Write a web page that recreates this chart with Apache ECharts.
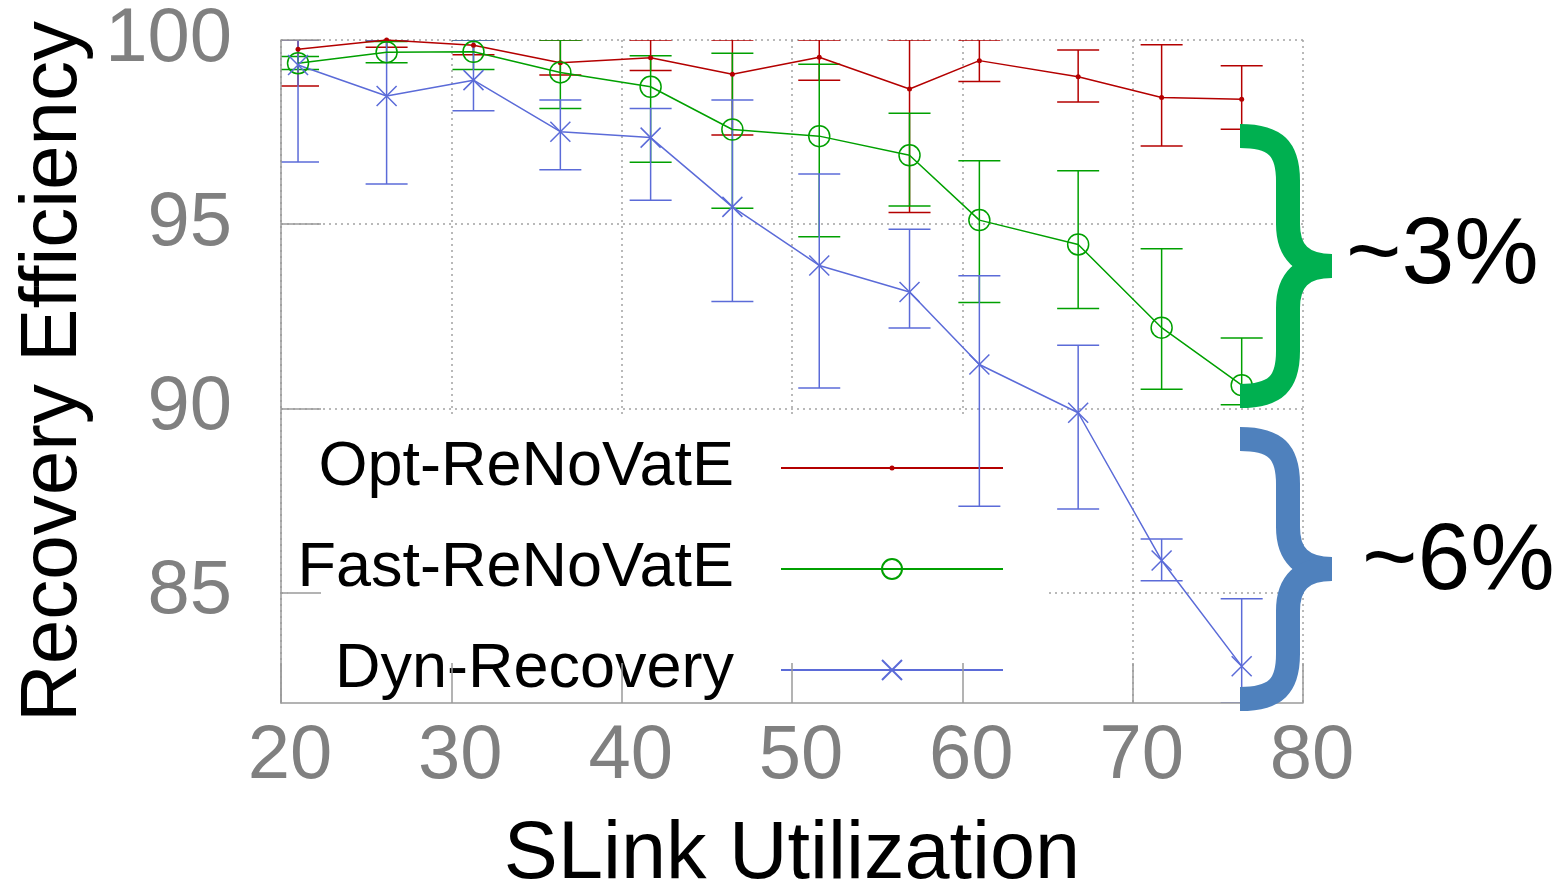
<!DOCTYPE html>
<html>
<head>
<meta charset="utf-8">
<title>Recovery Efficiency vs SLink Utilization</title>
<script src="https://cdn.jsdelivr.net/npm/echarts@6.0.0/dist/echarts.min.js"></script>
<style>
  html, body { margin: 0; padding: 0; background: #fff; }
  #chart { width: 1560px; height: 889px; }
</style>
</head>
<body>
<div id="chart"></div>
<script>
// values
const utilization = [21.0, 26.2, 31.3, 36.4, 41.7, 46.5, 51.6, 56.9, 61.0, 66.8, 71.7, 76.4];

const optMean = [99.75, 100.0, 99.86, 99.38, 99.52, 99.07, 99.53, 98.67, 99.44, 99.0, 98.44, 98.39];
const optLow = [98.75, 99.8, 99.6, 99.05, 99.17, 97.42, 98.91, 95.32, 98.87, 98.32, 97.12, 97.58];
const optHigh = [100, 100, 100, 100, 100, 100, 100, 100, 100, 99.73, 99.87, 99.3];

const fastMean = [99.37, 99.67, 99.68, 99.12, 98.73, 97.57, 97.39, 96.87, 95.11, 94.45, 92.19, 90.63];
const fastLow = [99.2, 99.38, 99.2, 98.14, 96.68, 95.43, 94.66, 95.49, 92.87, 92.71, 90.52, 90.1];
const fastHigh = [99.55, 99.96, 100, 100, 99.57, 99.64, 99.34, 98.01, 96.72, 96.45, 94.33, 91.91];

const dynMean = [99.32, 98.48, 98.91, 97.51, 97.35, 95.47, 93.88, 93.16, 91.19, 89.88, 85.87, 83.0];
const dynLow = [96.69, 96.09, 98.08, 96.48, 95.65, 92.9, 90.55, 92.18, 87.34, 87.27, 85.32, 82.0];
const dynHigh = [100, 100, 100, 98.37, 98.14, 98.37, 96.36, 94.86, 93.6, 91.71, 86.45, 84.83];

const seriesNames = ['Opt-ReNoVatE', 'Fast-ReNoVatE', 'Dyn-Recovery'];
const yTickValues = [85, 90, 95, 100];
const gapLabels = ['~3%', '~6%'];

const FONT = '"Liberation Sans", Arial, Helvetica, sans-serif';
const GRID_GRAY = '#a3a3a3';
const AXIS_GRAY = '#9a9a9a';
const LABEL_GRAY = '#808080';
const colors = ['#b40000', '#00a000', '#5b6bd8'];

// marker shapes; the extra moveTo points pad the small dot to a 20x20 box
const dotSymbol = 'path://M0,0M20,20M7.5,10A2.5,2.5 0 1,1 12.5,10A2.5,2.5 0 1,1 7.5,10Z';
const ringSymbol = 'path://M10,0A10,10 0 1,1 10,20A10,10 0 1,1 10,0Z';
const crossSymbol = 'path://M0,0L20,20M20,0L0,20';

const chart = echarts.init(document.getElementById('chart'));

function errorBarItem(params, api) {
    const x = api.value(0);
    const lo = api.coord([x, api.value(1)]);
    const hi = api.coord([x, api.value(2)]);
    const half = 21;
    const style = { stroke: api.visual('color'), lineWidth: 1.5 };
    return {
        type: 'group',
        children: [
            { type: 'line', shape: { x1: lo[0], y1: lo[1], x2: hi[0], y2: hi[1] }, style: style },
            { type: 'line', shape: { x1: lo[0] - half, y1: lo[1], x2: lo[0] + half, y2: lo[1] }, style: style },
            { type: 'line', shape: { x1: hi[0] - half, y1: hi[1], x2: hi[0] + half, y2: hi[1] }, style: style }
        ]
    };
}

function pairs(mean) {
    return utilization.map((x, i) => [x, mean[i]]);
}
function triples(low, high) {
    return utilization.map((x, i) => [x, low[i], high[i]]);
}

// curly brace from bezier pieces and straight lines
function brace(t, b, color) {
    const xl = 1240, xv = 1288, xt = 1332, m = (t + b) / 2;
    const style = { fill: null, stroke: color, lineWidth: 24, lineCap: 'butt' };
    const curve = (x1, y1, c1x, c1y, c2x, c2y, x2, y2) => ({
        type: 'bezierCurve', z: 10,
        shape: { x1: x1, y1: y1, cpx1: c1x, cpy1: c1y, cpx2: c2x, cpy2: c2y, x2: x2, y2: y2 },
        style: style
    });
    const line = (x1, y1, x2, y2) => ({
        type: 'line', z: 10, shape: { x1: x1, y1: y1, x2: x2, y2: y2 }, style: style
    });
    return [
        curve(xl, t + 11, xv - 12, t + 11, xv, t + 24, xv, t + 56),
        line(xv, t + 55, xv, m - 41),
        curve(xv, m - 42, xv, m - 14, xv + 14, m, xt, m),
        curve(xt, m, xv + 14, m, xv, m + 14, xv, m + 42),
        line(xv, m + 41, xv, b - 55),
        curve(xv, b - 56, xv, b - 24, xv - 12, b - 11, xl, b - 11)
    ];
}

const splitStyle = { show: true, lineStyle: { color: GRID_GRAY, width: 1.5, type: [2, 4] } };

const option = {
    backgroundColor: '#fff',
    animation: false,
    textStyle: { fontFamily: FONT },
    grid: { left: 281, right: 257, top: 40, bottom: 186, containLabel: false, outerBoundsMode: 'none' },
    xAxis: [
        {
            type: 'value', min: 20, max: 80, interval: 10, position: 'bottom', z: 0,
            axisLine: { show: false }, axisTick: { show: false }, axisLabel: { show: false },
            splitLine: splitStyle
        },
        {
            type: 'value', min: 20, max: 80, interval: 10, position: 'bottom', z: 3,
            name: 'SLink Utilization', nameLocation: 'middle', nameGap: 112,
            nameTextStyle: { fontFamily: FONT, fontSize: 81, color: '#000' },
            axisLine: { show: true, lineStyle: { color: AXIS_GRAY, width: 1.5 } },
            axisTick: { show: true, inside: true, length: 40, lineStyle: { color: AXIS_GRAY, width: 1.5 } },
            axisLabel: { show: true, margin: 16, padding: [0, 0, 0, 18],
                fontFamily: FONT, fontSize: 76, color: LABEL_GRAY },
            splitLine: { show: false }
        }
    ],
    yAxis: [
        {
            type: 'value', min: 82, max: 100, position: 'left', z: 0,
            axisLine: { show: false },
            axisTick: { show: false, customValues: yTickValues },
            axisLabel: { show: false, customValues: yTickValues },
            splitLine: splitStyle
        },
        {
            type: 'value', min: 82, max: 100, position: 'left', z: 3,
            name: 'Recovery Efficiency', nameLocation: 'middle', nameRotate: 90, nameGap: 186,
            nameTextStyle: { fontFamily: FONT, fontSize: 80, color: '#000' },
            axisLine: { show: true, lineStyle: { color: AXIS_GRAY, width: 1.5 } },
            axisTick: { show: true, inside: true, length: 40, customValues: yTickValues,
                lineStyle: { color: AXIS_GRAY, width: 1.5 } },
            axisLabel: { show: true, margin: 49, customValues: yTickValues,
                fontFamily: FONT, fontSize: 76, color: LABEL_GRAY },
            splitLine: { show: false }
        }
    ],
    legend: {
        data: seriesNames,
        orient: 'vertical',
        align: 'right',
        right: 512,
        top: 418,
        padding: [18, 44, 1, 10],
        backgroundColor: '#fff',
        itemWidth: 222,
        itemHeight: 25,
        itemGap: 37,
        z: 1,
        selectedMode: false,
        textStyle: { fontFamily: FONT, fontSize: 63, lineHeight: 64, color: '#000', padding: [0, 42, 0, 0] }
    },
    series: [
        {
            name: 'opt-err', type: 'custom', renderItem: errorBarItem, clip: true,
            itemStyle: { color: colors[0] }, encode: { x: 0, y: [1, 2] },
            data: triples(optLow, optHigh)
        },
        {
            name: seriesNames[0], type: 'line', data: pairs(optMean),
            symbol: dotSymbol, symbolSize: 20,
            itemStyle: { color: colors[0] },
            lineStyle: { color: colors[0], width: 1.5 }
        },
        {
            name: 'fast-err', type: 'custom', renderItem: errorBarItem, clip: true,
            itemStyle: { color: colors[1] }, encode: { x: 0, y: [1, 2] },
            data: triples(fastLow, fastHigh)
        },
        {
            name: seriesNames[1], type: 'line', data: pairs(fastMean),
            symbol: ringSymbol, symbolSize: 21,
            itemStyle: { color: 'rgba(0,0,0,0)', borderColor: colors[1], borderWidth: 1.5 },
            lineStyle: { color: colors[1], width: 1.5 }
        },
        {
            name: 'dyn-err', type: 'custom', renderItem: errorBarItem, clip: true,
            itemStyle: { color: colors[2] }, encode: { x: 0, y: [1, 2] },
            data: triples(dynLow, dynHigh)
        },
        {
            name: seriesNames[2], type: 'line', data: pairs(dynMean),
            symbol: crossSymbol, symbolSize: 20,
            itemStyle: { color: 'rgba(0,0,0,0)', borderColor: colors[2], borderWidth: 1.5 },
            lineStyle: { color: colors[2], width: 1.5 }
        }
    ],
    graphic: [].concat(
        brace(125, 407, '#00b050'),
        brace(428, 710, '#4f81bd'),
        [
            { type: 'text', z: 10, x: 1346, y: 257,
                style: { text: gapLabels[0], font: '95px ' + FONT, fill: '#000', verticalAlign: 'middle' } },
            { type: 'text', z: 10, x: 1362, y: 563,
                style: { text: gapLabels[1], font: '95px ' + FONT, fill: '#000', verticalAlign: 'middle' } }
        ]
    )
};

chart.setOption(option);
window.addEventListener('resize', function () {
    chart.resize();
});
</script>
</body>
</html>
